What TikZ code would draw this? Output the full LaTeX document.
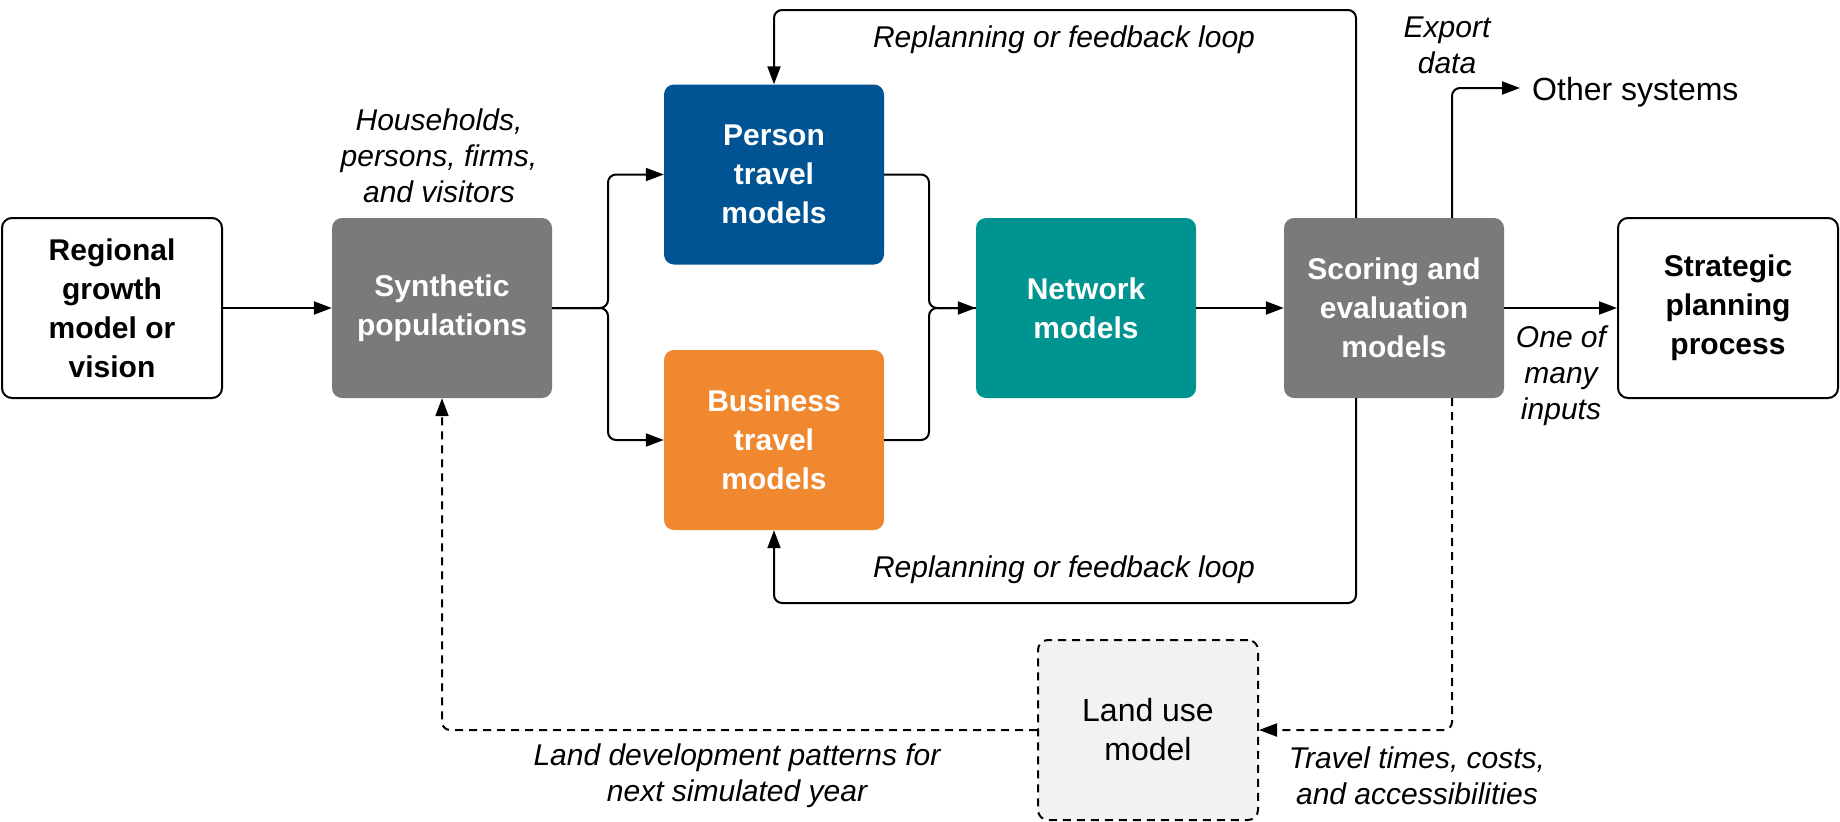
\documentclass[tikz,border=0pt]{standalone}
\usepackage{fontspec}
\setmainfont{Liberation Sans}
\usetikzlibrary{arrows.meta}
\definecolor{boxgray}{RGB}{122,122,122}
\definecolor{perblue}{RGB}{0,84,147}
\definecolor{busorange}{RGB}{240,136,47}
\definecolor{netteal}{RGB}{0,148,144}
\definecolor{landgray}{RGB}{242,242,242}
\begin{document}
\begin{tikzpicture}[x=1pt,y=-1pt,
  box/.style={rounded corners=10pt, minimum width=220pt, minimum height=180pt, inner sep=0pt, align=center, font=\fontsize{30}{39}\selectfont\bfseries},
  wbox/.style={box, draw=black, line width=2pt, fill=white},
  gbox/.style={box, fill=boxgray, text=white},
  lbl/.style={font=\fontsize{30}{36}\selectfont\itshape, align=center, inner sep=0pt},
  conn/.style={line width=2pt, rounded corners=8pt},
  arr/.style={conn, -{Triangle[length=18pt,width=13pt]}},
  darr/.style={arr, dash pattern=on 8pt off 6pt}]
\useasboundingbox (0,0) rectangle (1840,822);
% nodes
\node[wbox] (reg) at (112,308) {Regional\\growth\\model or\\vision};
\node[gbox] (syn) at (442,308) {Synthetic\\populations};
\node[box, fill=perblue, text=white] (per) at (774,174.5) {Person\\travel\\models};
\node[box, fill=busorange, text=white] (bus) at (774,440) {Business\\travel\\models};
\node[box, fill=netteal, text=white] (net) at (1086,308) {Network\\models};
\node[gbox] (sco) at (1394,308) {Scoring and\\evaluation\\models};
\node[wbox] (str) at (1728,308) {Strategic\\planning\\process};
\node[box, draw=black, line width=2pt, dash pattern=on 8pt off 6pt, fill=landgray, font=\fontsize{32}{39}\selectfont] (land) at (1148,730) {Land use\\model};
\node[anchor=base west, inner xsep=12pt, inner ysep=0pt, font=\fontsize{32}{36}\selectfont] (oth) at (1520,100) {Other systems};
% labels
\node[lbl] (hh) at (439,156) {Households,\\persons, firms,\\and visitors};
\node[lbl] (rp1) at (1064,40) {Replanning or feedback loop};
\node[lbl] (rp2) at (1064,570) {Replanning or feedback loop};
\node[lbl] (exp) at (1447,45) {Export\\data};
\node[lbl] (one) at (1561,376) {One of\\many\\inputs};
\node[lbl] (ldp) at (737,776) {Land development patterns for\\next simulated year};
\node[lbl] (ttc) at (1417,776) {Travel times, costs,\\and accessibilities};
% helper coordinates
\coordinate (tl) at (1356,10);
\coordinate (bl) at (1356,603);
\coordinate (ex) at (1452,88);
\coordinate (lb) at (608,0);
\coordinate (rb) at (929,0);
% connectors
\draw[arr] (reg.east) -- (syn.east -| syn.west);
\draw[arr] (syn.east) -| (lb |- per.west) -- (per.west);
\draw[arr] (syn.east) -| (lb |- bus.west) -- (bus.west);
\draw[conn] (per.east) -| (rb |- net.west) -- (net.west);
\draw[arr] (bus.east) -| (rb |- net.west) -- (net.west);
\draw[arr] (net.east) -- (sco.west);
\draw[arr] (sco.east) -- (str.west);
\draw[arr] (sco.north -| tl) |- (per.north |- tl) -- (per.north);
\draw[arr] (sco.south -| bl) |- (bus.south |- bl) -- (bus.south);
\draw[arr] (sco.north -| ex) |- (oth.west |- ex);
\draw[darr] (sco.south -| ex) |- (land.east);
\draw[darr] (land.west) -| (syn.south);
\end{tikzpicture}
\end{document}
